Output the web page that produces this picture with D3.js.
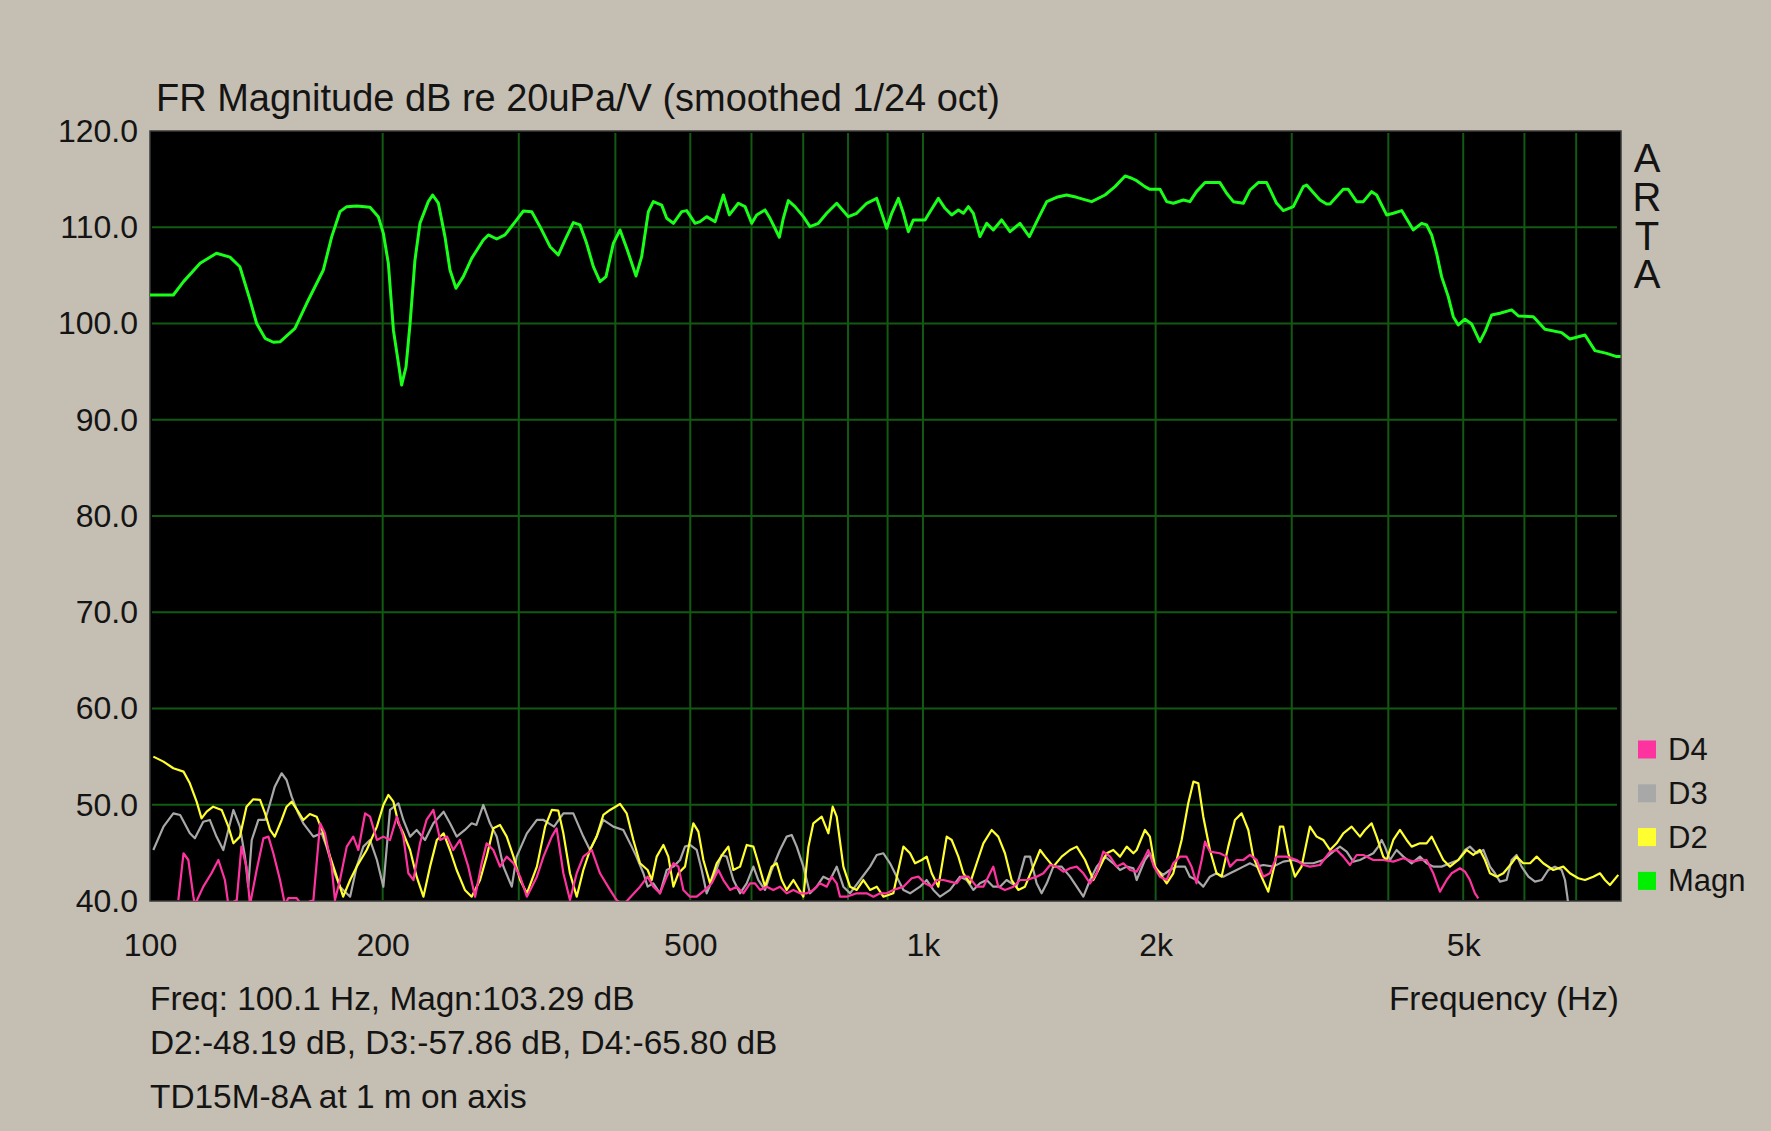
<!DOCTYPE html>
<html>
<head>
<meta charset="utf-8">
<script src="https://cdn.jsdelivr.net/npm/d3@7"></script>
<style>
  html, body { margin: 0; padding: 0; background: #c5beb2; }
  svg { display: block; }
  text { font-family: "Liberation Sans", Arial, sans-serif; fill: #141414; }
  .brand { writing-mode: vertical-rl; text-orientation: upright; }
</style>
</head>
<body>
<svg id="chart" width="1771" height="1131"></svg>
<script>
// ---------------- DATA ----------------
const titleText = "FR Magnitude dB re 20uPa/V (smoothed 1/24 oct)";
const yTickValues = [40, 50, 60, 70, 80, 90, 100, 110, 120];
const xTickValues = [100, 200, 500, 1000, 2000, 5000];
const xTickLabels = ["100", "200", "500", "1k", "2k", "5k"];
const xGridValues = [200, 300, 400, 500, 600, 700, 800, 900, 1000, 2000, 3000, 4000, 5000, 6000, 7000];
const yGridValues = [50, 60, 70, 80, 90, 100, 110];
const xDomain = [100, 8000];
const yDomain = [40, 120];
const legendNames = ["D4", "D3", "D2", "Magn"];
const infoLines = ["Freq: 100.1 Hz, Magn:103.29 dB", "D2:-48.19 dB, D3:-57.86 dB, D4:-65.80 dB", "TD15M-8A at 1 m on axis"];
const xAxisTitle = "Frequency (Hz)";
const brand = "ARTA";

const magnFreq = [100,107.2,110.5,116.1,121.9,126.9,130.7,134.7,137.4,140.9,144.4,147.3,154.0,159.5,167.6,171.8,176.1,179.7,185.1,192.6,197.4,200.4,203.4,206.5,209.6,211.6,214.4,217.0,220.2,223.5,229.1,232.1,236.1,240.8,244.4,248.8,254.3,260.7,269.9,274.0,280.9,287.9,298.1,304.1,311.8,319.6,329.3,337.5,344.3,352.9,360.0,367.2,374.6,382.1,389.0,397.6,405.6,414.5,425.4,432.6,441.3,
  447.9,459.2,466.1,475.5,487.4,494.7,507.2,514.8,525.0,538.4,551.8,561.7,577.0,588.6,600.4,609.4,624.7,634.1,652.0,659.7,669.6,683.1,700.3,714.2,732.3,750.7,773.4,800.7,820.9,845.7,871.3,897.6,911.2,929.5,943.4,957.4,971.9,1006.2,1021.3,1047.0,1068.0,1089.4,1111.3,1127.9,1144.9,1162,1185,1209,1233,1264,1296,1335,1373,1410,1446,1489,1534,1581,1653,1720,1772,1826,1862,
  1890,1937,1966,2026,2067,2108,2172,2215,2259,2317,2422,2471,2521,2597,2649,2715,2784,2868,2925,3014,3105,3136,3263,3328,3362,3498,3550,3640,3713,3806,3863,3980,4060,4162,4309,4417,4483,4551,4619,4688,4782,4854,4927,5026,5126,5254,5335,5442,5578,5776,5893,6162,6378,6703,6871,7186,7403,7665,7897,7990];
const magnDb = [102.96,102.96,104.35,106.25,107.3,106.9,105.9,102.45,100.0,98.46,98.05,98.1,99.5,102.1,105.56,109.0,111.62,112.14,112.21,112.07,111.1,109.37,106.25,99.3,95.86,93.6,95.5,100.0,106.6,110.41,112.66,113.35,112.5,109.0,105.56,103.66,104.87,106.77,108.68,109.2,108.78,109.2,110.76,111.69,111.62,110.06,107.98,107.12,108.68,110.48,110.24,108.33,105.9,104.35,104.87,108.33,109.72,107.64,104.94,106.95,111.62,
  112.66,112.3,110.93,110.41,111.62,111.73,110.41,110.58,111.1,110.58,113.35,111.28,112.49,112.14,110.41,111.28,111.8,110.93,108.96,110.93,112.77,112.14,111.1,110.06,110.41,111.45,112.49,111.1,111.45,112.49,113.0,109.89,111.45,113.0,111.45,109.54,110.76,110.76,111.62,113.0,111.97,111.28,111.8,111.45,112.14,111.45,109.03,110.41,109.72,110.76,109.54,110.41,109.03,110.93,112.66,113.11,113.35,113.11,112.66,113.35,114.22,115.33,115.09,
  114.84,114.22,113.94,113.94,112.66,112.49,112.83,112.66,113.7,114.64,114.64,113.53,112.66,112.49,113.87,114.64,114.64,112.49,111.73,112.14,114.22,114.39,112.83,112.42,112.42,113.94,113.94,112.66,112.66,113.7,113.35,111.28,111.45,111.73,109.72,110.41,110.24,109.2,107.29,104.87,102.79,100.71,99.85,100.44,99.95,98.12,99.15,100.89,101.06,101.41,100.78,100.71,99.4,99.05,98.39,98.81,97.18,96.9,96.56,96.56];

const d2Freq = [101.0,104.1,107.2,110.5,112.6,114.9,116.6,118.4,120.7,123.8,126.3,128.2,130.7,133.3,136.0,138.8,140.9,143.0,145.0,148.0,150.2,152.5,155.5,157.9,161.0,164.3,167.6,171.0,174.4,177.8,181.5,185.1,190.7,196.6,200.4,203.4,206.5,209.6,212.7,217.0,221.3,225.8,230.3,235.0,239.8,244.4,249.3,255.5,260.7,267.3,272.6,278.1,283.7,289.4,295.3,301.2,307.3,316.6,324.5,331.0,337.5,342.6,349.4,356.5,363.6,370.9,378.3,385.9,393.7,405.6,413.7,422.0,430.5,
  440.4,445.7,452.4,461.5,468.4,475.5,482.6,492.2,499.6,504.6,512.2,519.9,530.3,541.0,551.8,560.1,568.5,579.9,591.5,603.4,612.4,624.7,637.2,646.9,656.5,666.4,679.8,700.3,711.0,721.4,739.6,754.5,764.2,773.4,788.9,804.7,820.9,837.3,854.2,871.3,888.8,915.5,943.4,962.3,976.7,996.3,1011.2,1026.4,1047.0,1073.3,1089.4,1111.3,1127.9,1150.6,1173.6,1197.2,1227.1,1251.6,1276.7,1302.3,1328.5,1355.1,1389.1,1417.6,1438.9,1474.6,1511.7,1549.8,1581,1620.7,1661.4,1694.7,1728.4,1763.2,1798.6,1834.9,1871.8,
  1890,1937,1966,1996,2026,2067,2108,2161,2204,2238,2271,2305,2351,2398,2434,2483,2533,2584,2636,2675,2729,2797,2854,2896,2925,2969,3029,3089,3167,3231,3295,3362,3429,3498,3586,3676,3731,3806,3863,3940,3980,4060,4141,4224,4288,4395,4483,4551,4619,4712,4806,4927,5051,5152,5254,5335,5415,5524,5635,5776,5861,5978,6102,6223,6346,6538,6737,6871,7044,7186,7366,7514,7627,7741,7935];
const d2Db = [55.0,54.48,53.79,53.44,52.23,50.32,48.59,49.28,49.8,49.46,47.73,46.0,46.69,49.8,50.57,50.5,49.11,47.38,46.69,48.42,49.8,50.32,49.28,48.42,49.04,48.76,47.03,44.61,42.53,40.45,42.18,43.57,45.3,47.73,49.98,51.02,50.32,48.07,47.03,45.3,42.53,40.45,43.57,46.34,47.03,45.3,43.22,41.15,40.45,42.18,44.61,47.55,47.9,46.69,44.61,42.18,40.8,43.57,47.73,49.46,49.39,47.03,42.88,40.45,43.22,45.3,46.69,48.94,49.46,50.08,49.11,46.34,43.92,
  43.22,42.18,44.61,45.82,44.61,41.49,42.88,43.57,46.34,48.07,47.21,44.26,41.84,43.92,44.96,45.65,43.22,43.57,45.82,45.65,43.92,41.49,43.57,43.92,42.18,41.15,42.18,40.45,45.65,48.07,48.76,47.03,49.8,48.76,43.57,41.49,41.15,42.18,41.15,41.49,40.45,40.8,45.65,44.96,43.92,44.26,44.61,42.88,41.49,46.69,46.34,44.61,42.88,41.84,43.92,45.99,47.38,46.69,44.96,42.18,41.15,41.49,43.57,45.3,44.61,43.57,44.61,45.3,45.65,44.26,42.18,43.57,44.96,45.3,44.61,45.65,44.96,
  45.3,47.38,46.69,43.57,42.88,41.84,42.88,46.34,50.15,52.4,52.23,48.76,45.3,42.88,42.53,45.65,48.42,49.11,47.38,44.61,42.88,40.97,43.92,47.73,47.73,44.96,42.53,43.57,47.73,46.69,46.34,45.3,45.99,47.03,47.73,46.69,47.38,48.07,46.69,44.61,44.26,46.34,47.38,46.34,45.65,45.99,45.99,46.69,45.65,44.26,43.57,44.26,45.3,44.78,45.3,44.26,42.88,42.53,42.88,43.92,44.61,43.92,43.92,44.61,43.92,43.22,43.57,42.88,42.36,42.18,42.53,42.88,42.18,41.66,42.71];

const d3Freq = [101.0,104.1,107.2,109.4,112.6,114.3,117.2,119.5,121.9,124.4,128.2,130.7,132.7,134.0,135.4,138.1,140.9,143.0,145.0,148.0,150.2,152.5,155.5,157.9,162.7,166.8,169.2,172.7,176.1,181.5,185.1,188.8,192.6,196.6,200.4,204.4,209.6,212.7,217.0,221.3,226.9,232.6,239.8,244.4,249.3,255.5,260.7,264.4,269.9,275.3,280.9,286.6,293.8,298.1,307.3,316.6,322.9,333.2,342.6,352.9,363.6,370.9,378.3,385.9,397.6,409.6,419.9,425.9,
  434.8,440.4,447.9,456.9,466.1,475.5,485.0,492.2,499.6,509.7,517.3,525.0,538.4,549.0,557.2,568.5,579.9,591.5,603.4,612.4,624.7,637.2,653.2,666.4,676.4,686.6,700.3,714.2,728.6,743.3,758.2,773.4,788.9,804.7,829.1,854.2,871.3,888.8,906.6,924.8,943.4,962.3,991.4,1011.2,1031.5,1052.2,1084.0,1116.8,1139.2,1162,1185,1209,1233,1258.2,1283,1321.9,1355.1,1376,1403,1424,1446,1474.6,1511.7,1549.8,1581,1612.6,1645,1678,1720,1763.2,1798.6,1834.9,
  1871.8,1890,1937,1966,2006,2046,2087,2129,2183,2215,2259,2305,2351,2398,2447,2496,2546,2597,2649,2702,2756,2839,2925,3014,3105,3199,3295,3395,3463,3533,3604,3676,3750,3825,3882,3921,3960,4020,4100,4183,4288,4395,4483,4574,4688,4806,4927,5026,5101,5204,5309,5415,5495,5578,5689,5776,5861,5949,6072,6192,6315,6442,6571,6703,6771,6818,6840];
const d3Db = [45.3,47.73,49.11,48.94,47.03,46.51,48.24,48.42,46.69,45.3,49.46,47.73,44.61,41.49,46.34,48.42,48.42,50.15,51.88,53.27,52.57,50.84,49.11,48.07,46.69,47.03,45.65,43.22,41.49,40.45,43.57,45.65,46.34,44.26,41.49,49.46,50.15,48.42,46.69,47.38,46.34,48.07,49.28,48.07,46.69,47.38,48.07,47.9,49.98,48.07,46.69,43.57,41.49,44.61,47.03,48.42,48.42,47.73,49.11,49.11,46.69,45.3,46.69,48.42,47.73,47.38,45.65,44.61,
  42.88,41.49,41.84,40.8,43.22,43.57,44.26,45.65,45.82,45.3,43.22,40.8,42.88,44.78,44.61,42.18,40.8,41.84,43.57,42.18,41.15,43.22,45.3,46.69,46.86,45.65,43.57,40.8,41.49,42.53,42.18,43.57,41.49,40.8,42.18,43.57,44.78,44.96,43.92,42.53,41.15,40.8,41.49,42.18,41.15,40.45,41.15,42.53,42.18,41.15,41.84,42.18,41.49,41.49,42.18,41.49,44.61,44.61,41.84,40.8,41.84,43.57,43.57,42.53,41.49,40.45,42.18,43.57,44.61,43.92,43.22,43.57,
  43.4,42.18,44.26,44.96,43.22,42.71,43.22,43.57,43.57,42.53,42.18,41.49,42.53,42.88,42.53,42.88,43.22,43.57,43.92,43.57,43.74,43.57,44.09,44.26,43.92,43.92,44.26,45.13,45.65,45.13,44.09,44.26,44.61,44.96,45.65,46.34,45.65,44.26,45.3,44.61,43.92,44.61,43.92,43.57,43.57,43.92,44.26,45.3,45.65,44.96,45.3,43.57,42.88,42.01,42.18,44.26,44.78,43.57,42.53,42.01,42.18,43.22,43.57,43.22,42.18,40.45,39.5];

const d4Freq = [108.8,110.5,112.1,113.8,114.3,117.2,120.1,122.6,125.0,126.3,129.5,131.3,133.3,134.7,137.4,140.2,142.3,144.4,147.3,149.5,151.0,154.8,157.1,162.7,166.0,168.4,171.8,173.5,176.1,179.7,183.2,186.0,189.8,192.6,196.6,200.4,204.4,208.6,212.7,215.9,219.2,223.5,227.9,232.6,237.4,242.3,246.8,251.8,258.1,263.4,268.6,272.6,278.1,283.7,289.4,295.3,301.2,307.3,316.6,322.9,331.0,335.8,342.6,349.4,356.5,363.6,372.8,382.1,393.7,401.5,409.6,
  430.5,440.4,447.9,456.9,466.1,475.5,482.6,489.8,499.6,509.7,522.4,533.0,543.6,551.8,562.9,574.2,585.7,597.4,606.4,615.5,627.8,640.4,653.2,666.4,679.8,693.4,707.3,721.4,735.9,750.7,761.9,773.4,781.1,796.8,820.9,845.7,862.7,880.0,897.6,915.5,943.4,967.1,986.4,1006.2,1026.4,1041.8,1062.7,1084,1105.7,1122.3,1144.9,1173.6,1197.2,1221,1233,1251.6,1276.7,1309.3,1335,1361.9,1403,1431.8,1460.5,1489,1519.3,1549.8,1581,1612.6,1645,1678,1711.6,1746,1781,1816.8,1853.2,
  1890,1928,1957,1990,2026,2067,2108,2150,2193,2226,2259,2294,2317,2351,2422,2471,2496,2546,2597,2649,2702,2756,2811,2868,2955,3044,3105,3167,3263,3362,3429,3498,3568,3640,3713,3825,3940,4060,4183,4309,4395,4483,4574,4665,4759,4830,4952,5026,5101,5178,5230];
const d4Db = [40.1,44.96,44.26,40.45,39.6,41.49,42.88,44.26,42.18,39.6,40.1,45.65,43.57,39.6,43.22,46.51,46.69,44.96,42.18,39.6,40.3,40.3,39.6,40.1,48.07,47.03,43.57,40.1,42.18,45.65,46.69,45.3,49.11,48.76,46.34,46.69,46.34,48.76,46.69,42.88,42.18,45.99,48.42,49.46,46.34,46.69,45.3,46.34,43.57,40.45,43.92,45.99,45.3,43.57,44.61,43.92,42.53,40.45,42.53,44.61,46.69,47.55,42.88,40.1,42.88,44.61,45.3,42.88,41.15,40.1,39.6,
  41.49,42.53,41.49,40.8,42.53,43.92,43.57,41.15,40.45,40.45,41.15,41.84,43.22,42.18,41.15,41.49,40.8,41.84,41.84,41.15,41.49,41.15,41.49,40.8,41.15,40.8,40.8,41.15,41.84,41.49,42.53,41.84,40.45,40.45,40.8,40.8,40.45,40.8,40.8,41.15,41.49,42.36,42.53,41.84,41.49,42.18,42.18,42.01,41.84,42.53,42.53,41.49,41.49,42.88,43.57,41.49,41.15,41.49,42.18,42.18,42.53,42.88,43.74,43.57,43.05,43.4,43.57,42.88,41.84,42.88,45.13,44.61,43.57,43.92,43.22,
  43.05,44.26,45.3,43.57,42.53,42.18,43.92,44.61,44.61,43.57,41.84,44.26,46.17,45.13,44.96,44.61,43.57,44.26,44.26,44.78,44.26,42.53,42.88,44.61,44.61,44.26,43.74,43.57,43.74,45.13,45.3,44.61,43.74,44.78,44.78,44.26,44.26,44.09,44.44,44.09,44.26,44.26,42.88,40.97,42.18,42.88,43.4,43.05,42.18,40.8,40.28];

// ---------------- DRAW ----------------
const W = 1771, H = 1131;
const plot = { left: 150, right: 1621, top: 131, bottom: 901 };
const svg = d3.select("#chart");

svg.append("rect").attr("width", W).attr("height", H).attr("fill", "#c5beb2");

const x = d3.scaleLog().domain(xDomain).range([plot.left, plot.right]);
const y = d3.scaleLinear().domain(yDomain).range([plot.bottom, plot.top]);

svg.append("defs").append("clipPath").attr("id", "clip")
  .append("rect").attr("x", plot.left).attr("y", plot.top)
  .attr("width", plot.right - plot.left).attr("height", plot.bottom - plot.top);

svg.append("rect")
  .attr("x", plot.left).attr("y", plot.top)
  .attr("width", plot.right - plot.left).attr("height", plot.bottom - plot.top)
  .attr("fill", "#000").attr("stroke", "#3a3a3a").attr("stroke-width", 1.5);

const grid = svg.append("g").attr("stroke", "#125a12").attr("stroke-width", 2);
grid.selectAll("line.v").data(xGridValues).join("line")
  .attr("x1", d => x(d)).attr("x2", d => x(d))
  .attr("y1", plot.top + 2).attr("y2", plot.bottom - 1);
grid.selectAll("line.h").data(yGridValues).join("line")
  .attr("x1", plot.left + 2).attr("x2", plot.right - 4)
  .attr("y1", d => y(d)).attr("y2", d => y(d));

const series = [
  { f: d3Freq, v: d3Db, color: "#a8a8a8", w: 2.2 },
  { f: d2Freq, v: d2Db, color: "#ffff30", w: 2.2 },
  { f: d4Freq, v: d4Db, color: "#ff33a0", w: 2.2 },
  { f: magnFreq, v: magnDb, color: "#19ff19", w: 3 }
];
const line = d3.line().x(d => x(d[0])).y(d => y(d[1]));
const g = svg.append("g").attr("clip-path", "url(#clip)");
series.forEach(s => {
  g.append("path")
    .datum(s.f.map((f, i) => [f, s.v[i]]))
    .attr("d", line)
    .attr("fill", "none")
    .attr("stroke", s.color)
    .attr("stroke-width", s.w)
    .attr("stroke-linejoin", "round");
});

// Axes
const yAxis = d3.axisLeft(y).tickValues(yTickValues).tickFormat(d3.format(".1f")).tickSize(0).tickPadding(12);
const ya = svg.append("g").attr("transform", `translate(${plot.left},0)`).call(yAxis);
const xAxis = d3.axisBottom(x).tickValues(xTickValues).tickFormat((d, i) => xTickLabels[i]).tickSize(0).tickPadding(32);
const xa = svg.append("g").attr("transform", `translate(0,${plot.bottom})`).call(xAxis);
[ya, xa].forEach(a => {
  a.select(".domain").remove();
  a.selectAll("text").attr("font-size", 32).attr("fill", "#141414")
    .attr("font-family", "'Liberation Sans', Arial, sans-serif");
});

// Title
svg.append("text").attr("x", 156).attr("y", 111).attr("font-size", 38)
  .attr("textLength", 844).attr("lengthAdjust", "spacingAndGlyphs").text(titleText);

// ARTA (single vertical text)
svg.append("text").attr("class", "brand")
  .attr("x", 1647).attr("y", 136)
  .attr("font-size", 40).attr("letter-spacing", -5.2)
  .text(brand);

// Legend
const legendColors = ["#ff33a0", "#a8a8a8", "#ffff30", "#00f000"];
const lg = svg.append("g");
legendNames.forEach((n, i) => {
  const cy = 749.5 + i * 43.8;
  lg.append("rect").attr("x", 1638).attr("y", cy - 9).attr("width", 18).attr("height", 18).attr("fill", legendColors[i]);
  lg.append("text").attr("x", 1668).attr("y", cy + 10.5).attr("font-size", 31).text(n);
});

// Info texts
const infoY = [1010, 1054, 1108];
infoLines.forEach((t, i) => {
  svg.append("text").attr("x", 150).attr("y", infoY[i]).attr("font-size", 33.4).text(t);
});
svg.append("text").attr("x", 1619).attr("y", 1010).attr("text-anchor", "end").attr("font-size", 33.4).text(xAxisTitle);
</script>
</body>
</html>
